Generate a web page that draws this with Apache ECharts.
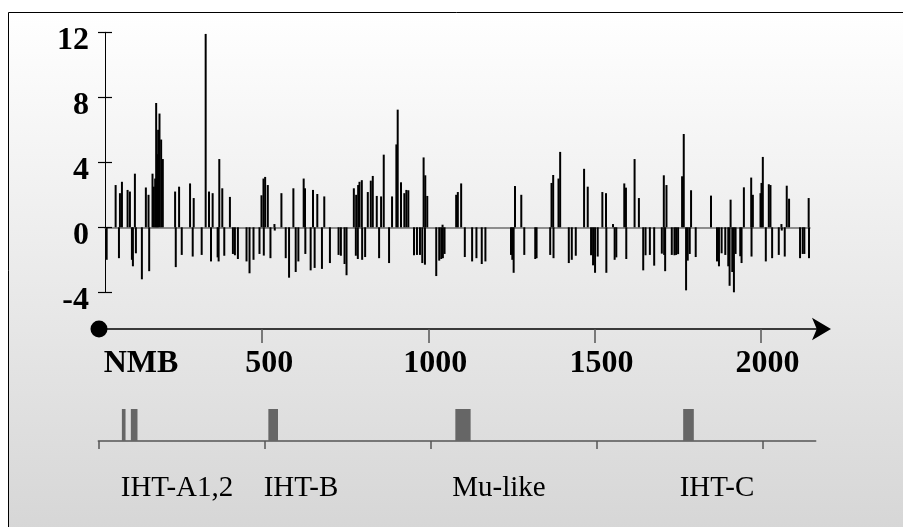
<!DOCTYPE html>
<html>
<head>
<meta charset="UTF-8">
<title>profile</title>
<style>
  html, body { margin: 0; padding: 0; background: #fff; }
  #main { width: 903px; height: 527px; }
</style>
</head>
<body>
<div id="main"></div>
<script src="https://cdn.jsdelivr.net/npm/echarts@6/dist/echarts.min.js"></script>
<script>
// bar positions (sequence units) and values
var barPos = [25,52,62,65,71,88,95,101,104,110,113,131,143,151,153,163,167,171,174,177,180,184,189,194,
  231,233,243,251,276,284,287,311,323,333,339,344,359,362,364,
  373,379,396,405,411,420,446,455,467,485,491,497,498,502,510,518,530,531,551,564,574,587,594,602,618,622,623,
  639,646,651,659,673,680,697,723,
  730,741,747,769,775,776,781,782,786,793,794,803,811,820,826,838,845,851,859,875,884,897,901,911,921,927,933,
  950,959,968,975,979,983,984,990,1017,1026,1032,1036,1037,1042,
  1077,1082,1092,1103,1125,1138,1154,1165,1242,1246,1250,1254,1273,1282,1315,1319,1360,1364,1369,1370,1385,1390,
  1416,1425,1437,
  1462,1473,1483,1489,1495,1503,1517,1528,1529,1549,1554,1559,1583,1588,1589,1614,1627,1640,1647,1660,1673,
  1696,1702,1703,1706,1710,1726,1734,1739,1745,1757,1762,1769,1774,1780,1784,1798,
  1844,1862,1868,1876,1887,1896,1900,1903,1908,1913,1918,1932,1936,1943,1965,1966,1970,1993,1996,2000,2009,
  2018,2023,2028,2048,2056,2057,2066,2072,2079,2112,2120,2125,2138,2139];
var barVal = [-2.0,2.6,-1.9,2.1,2.8,2.3,2.2,-2.0,-2.4,3.3,-1.6,-3.2,2.45,2.0,-2.7,3.3,2.5,3.0,7.65,4.5,6.0,7.0,5.4,4.2,
  2.2,-2.45,2.5,-1.7,2.7,-1.8,1.8,-1.7,11.9,2.2,-2.1,2.1,-1.85,-2.1,4.2,
  2.4,-1.75,1.87,-1.64,-1.72,-1.95,-2.1,-2.83,-2.0,-1.64,1.97,3.0,-1.74,3.1,2.6,-1.9,0.2,-0.2,2.1,-1.9,-3.1,2.4,-2.75,-2.1,3.0,2.4,-1.64,
  -2.65,2.3,-2.5,2.05,-2.56,1.9,-2.2,-1.7,
  -1.75,-2.26,-2.95,2.4,-1.75,2.0,-1.95,2.6,2.8,2.9,-2.0,-1.83,2.17,2.87,3.16,1.93,-1.9,1.9,4.47,-2.2,1.9,5.1,7.24,2.77,2.1,2.3,2.28,
  -1.72,-1.7,-1.7,-2.2,4.3,-2.3,3.2,1.93,-3.0,-2.05,-1.95,0.16,-1.9,-1.64,
  2.0,2.17,2.7,-1.83,-2.1,-1.9,-2.26,-2.1,-1.7,-2.0,-2.8,2.54,2.0,-1.7,-1.95,-1.9,-1.7,2.73,3.22,-1.9,3.0,4.64,
  -2.2,-2.0,-1.75,
  3.6,2.5,-1.72,-2.34,-2.8,-1.8,2.17,2.1,-2.8,0.2,-2.0,-1.85,2.7,2.44,-1.95,4.2,1.8,-2.65,-1.72,-1.7,-2.36,
  -1.62,3.2,-1.7,-2.7,2.6,-1.7,-1.72,-1.7,-1.65,3.14,5.74,-3.88,-2.05,-1.64,2.28,-1.83,
  1.95,-2.1,-2.4,-1.6,-1.7,-2.4,-3.6,1.7,-2.75,-4.08,-1.64,-1.78,-2.2,2.46,3.06,-1.8,2.0,2.1,2.73,4.33,-2.1,
  2.65,2.6,-1.9,-1.7,0.2,-0.2,-1.8,2.56,1.76,-1.9,-1.64,-1.64,1.8,-1.9];

var yTicks = [-4, 0, 4, 8, 12];
var xTicks = [0, 500, 1000, 1500, 2000];

// feature boxes on the lower track: [start, end]
var featureStart = [71, 98, 512, 1075, 1761];
var featureEnd = [82, 118, 541, 1121, 1793];
var featureNames = ['IHT-A1,2', 'IHT-B', 'Mu-like', 'IHT-C'];
var featureLabelX = [177, 301, 499, 717];

var barData = barPos.map(function (p, i) { return [p, barVal[i]]; });
var boxData = featureStart.map(function (s, i) { return [s, featureEnd[i]]; });

var serif = '"Liberation Serif", "Times New Roman", serif';
var boldLabel = { color: '#000', fontFamily: serif, fontWeight: 'bold', fontSize: 32 };

var chart = echarts.init(document.getElementById('main'));

var option = {
  animation: false,
  graphic: [
    {
      type: 'rect', z: -10, silent: true,
      shape: { x: 8.5, y: 12.5, width: 900, height: 520 },
      style: {
        fill: new echarts.graphic.LinearGradient(0, 0, 0, 1, [
          { offset: 0, color: '#ffffff' },
          { offset: 1, color: '#d6d6d6' }
        ]),
        stroke: '#000', lineWidth: 1
      }
    }
  ].concat(featureNames.map(function (n, i) {
    return {
      type: 'text', silent: true,
      x: featureLabelX[i], y: 488,
      style: {
        text: n, font: '29px ' + serif, fill: '#000',
        textAlign: 'center', textVerticalAlign: 'middle'
      }
    };
  })),
  grid: [
    { left: 105, top: 32.3, width: 705, height: 260 },
    { left: 96, top: 300, width: 725, height: 29 },
    { left: 98.3, top: 409, width: 717.4, height: 32 }
  ],
  xAxis: [
    {
      gridIndex: 0, type: 'value', min: 20, max: 2142,
      axisLine: { onZero: true, lineStyle: { color: '#6e6e6e', width: 1.5 } },
      axisTick: { show: false }, axisLabel: { show: false }, splitLine: { show: false }
    },
    {
      gridIndex: 1, type: 'value', min: 0, max: 2182, position: 'bottom',
      axisLine: {
        lineStyle: { color: '#000', width: 1.5 },
        symbol: ['circle', 'arrow'], symbolSize: [17, 19], symbolOffset: [3, 10]
      },
      axisTick: { length: 14, customValues: xTicks.slice(1), lineStyle: { color: '#555', width: 1.5 } },
      axisLabel: {
        margin: 19,
        customValues: xTicks,
        formatter: function (v) { return v === 0 ? '{m|NMB}' : '{v|' + v + '}'; },
        rich: {
          m: Object.assign({ padding: [0, 0, 0, 90] }, boldLabel),
          v: Object.assign({ padding: [0, 0, 0, 14] }, boldLabel)
        }
      },
      splitLine: { show: false }
    },
    {
      gridIndex: 2, type: 'value', min: 0, max: 2160, position: 'bottom',
      axisLine: { lineStyle: { color: '#555', width: 1.5 } },
      axisTick: { length: 8, customValues: xTicks, lineStyle: { color: '#555', width: 1.5 } },
      axisLabel: { show: false }, splitLine: { show: false }
    }
  ],
  yAxis: [
    {
      gridIndex: 0, type: 'value', min: -4, max: 12, interval: 4, position: 'left',
      axisLine: { show: true, lineStyle: { color: '#000', width: 1 } },
      axisTick: { show: true, length: 7, lineStyle: { color: '#000', width: 1.2 } },
      axisLabel: {
        margin: 16,
        customValues: yTicks,
        formatter: function (v) { return '{y|' + v + '}'; },
        rich: { y: Object.assign({ padding: [17, 0, 0, 0] }, boldLabel) }
      },
      splitLine: { show: false }
    },
    {
      gridIndex: 0, type: 'value', min: -4, max: 12, interval: 4, position: 'left',
      axisLine: { show: false },
      axisTick: { show: true, inside: true, length: 7, lineStyle: { color: '#000', width: 1.2 } },
      axisLabel: { show: false }, splitLine: { show: false }
    },
    {
      gridIndex: 1, type: 'value', min: 0, max: 1, show: false
    },
    {
      gridIndex: 2, type: 'value', min: 0, max: 1, show: false
    }
  ],
  series: [
    {
      type: 'bar', xAxisIndex: 0, yAxisIndex: 0,
      data: barData, barWidth: 2,
      itemStyle: { color: '#000' },
      z: 5
    },
    {
      type: 'custom', xAxisIndex: 2, yAxisIndex: 3,
      data: boxData,
      renderItem: function (params, api) {
        var a = api.coord([api.value(0), 1]);
        var b = api.coord([api.value(1), 0]);
        return {
          type: 'rect',
          shape: { x: a[0], y: a[1], width: b[0] - a[0], height: b[1] - a[1] },
          style: { fill: '#666666' }
        };
      }
    }
  ]
};

chart.setOption(option);
</script>
</body>
</html>
